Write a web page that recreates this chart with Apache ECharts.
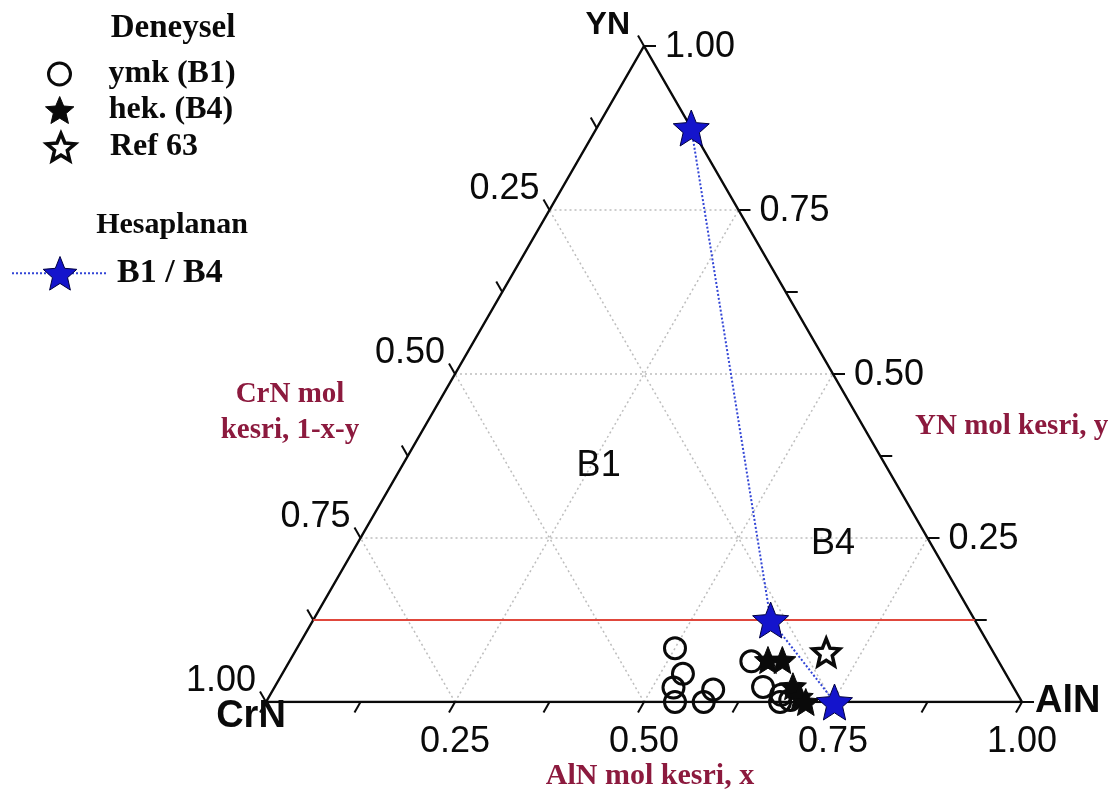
<!DOCTYPE html>
<html>
<head>
<meta charset="utf-8">
<script src="https://cdn.jsdelivr.net/npm/echarts@6/dist/echarts.min.js"></script>
<style>
  html, body { margin: 0; padding: 0; background: #ffffff; }
  #chart { width: 1113px; height: 801px; }
</style>
</head>
<body>
<div id="chart"></div>
<script>
// Compositions as [x, y]: x = AlN mole fraction, y = YN mole fraction, CrN = 1 - x - y
const ymkB1 = [
  [0.500, 0.082], [0.530, 0.043], [0.528, 0.022], [0.541, 0.000],
  [0.582, 0.019], [0.579, 0.000], [0.611, 0.062], [0.646, 0.023],
  [0.676, 0.011], [0.680, 0.000], [0.692, 0.003]
];
const hekB4 = [[0.632, 0.064], [0.651, 0.064], [0.685, 0.024], [0.702, 0.008], [0.714, 0.000]];
const ref63 = [[0.703, 0.076]];
const calcB1B4 = [[0.125, 0.875], [0.605, 0.125], [0.752, 0.000]];

// Phase boundary (constant YN fraction)
const boundaryYN = 0.125;

// Axis ticks (every 0.125) and labelled values
const tickValues = [0, 0.125, 0.25, 0.375, 0.5, 0.625, 0.75, 0.875, 1];
const labelValues = [0.25, 0.5, 0.75, 1.0];
const labelTexts = ['0.25', '0.50', '0.75', '1.00'];
const gridValues = [0.25, 0.5, 0.75];

// Corner components and region names
const cornerNames = ['CrN', 'AlN', 'YN'];
const regionNames = ['B1', 'B4'];
const regionPoints = [[0.26, 0.36], [0.63, 0.24]];

const seriesNames = ['ymk (B1)', 'hek. (B4)', 'Ref 63', 'B1 / B4'];

// ---- ternary -> cartesian ----
const H = Math.sqrt(3) / 2;
function toXY(p) { return [p[0] + p[1] / 2, p[1] * H]; }

function starPath(ratio) {
  let d = '';
  for (let i = 0; i < 10; i++) {
    const r = i % 2 ? 50 * ratio : 50;
    const a = -Math.PI / 2 + i * Math.PI / 5;
    d += (i ? 'L' : 'M') + (50 + r * Math.cos(a)).toFixed(2) + ',' + (50 + r * Math.sin(a)).toFixed(2);
  }
  return 'path://' + d + 'Z';
}
const STAR = starPath(0.45);

// grid segments in three directions
const gridSegs = [];
gridValues.forEach(v => {
  gridSegs.push([...toXY([0, v]), ...toXY([1 - v, v])]);      // constant YN
  gridSegs.push([...toXY([v, 0]), ...toXY([v, 1 - v])]);      // constant AlN
  gridSegs.push([...toXY([1 - v, 0]), ...toXY([0, 1 - v])]);  // constant CrN
});

// tick data: [X, Y, axis, value]; axis 0 = AlN (bottom), 1 = YN (right), 2 = CrN (left)
const tickData = [];
tickValues.forEach(t => {
  tickData.push([...toXY([t, 0]), 0, t]);
  tickData.push([...toXY([1 - t, t]), 1, t]);
  tickData.push([...toXY([0, 1 - t]), 2, t]);
});

const corners = [[0, 0], [1, 0], [0, 1]];
const cornerData = corners.map((c, i) => [...toXY(c), i]);

const frame = [[0, 0], [1, 0], [0, 1], [0, 0]].map(toXY);

const SANS = '"Liberation Sans", Arial, sans-serif';
const SERIF = '"Liberation Serif", "Times New Roman", serif';
const TITLE_COLOR = '#8c1a3e';
const INK = '#0a0a0a';

const legendText = (size) => ({ fontFamily: SERIF, fontWeight: 'bold', fontSize: size, color: INK, padding: [0, 0, 0, 6] });

const chart = echarts.init(document.getElementById('chart'), null, { renderer: 'canvas' });

const option = {
  backgroundColor: '#ffffff',
  animation: false,
  grid: { left: 266, top: 46, width: 756, height: 656, containLabel: false },
  xAxis: { type: 'value', min: 0, max: 1, show: false },
  yAxis: { type: 'value', min: 0, max: H, show: false },
  legend: [
    {
      data: [{ name: seriesNames[0], itemStyle: { color: 'rgba(255,255,255,0)', borderColor: INK, borderWidth: 3 } }],
      left: 42, top: 53, itemWidth: 76, itemHeight: 22,
      textStyle: legendText(32), selectedMode: false
    },
    {
      data: [{ name: seriesNames[1], itemStyle: { color: INK, borderColor: INK, borderWidth: 1 } }],
      left: 40, top: 89, itemWidth: 76, itemHeight: 27,
      textStyle: legendText(32), selectedMode: false
    },
    {
      data: [{ name: seriesNames[2], itemStyle: { color: '#ffffff', borderColor: INK, borderWidth: 3.5 } }],
      left: 40, top: 126, itemWidth: 76, itemHeight: 27,
      textStyle: legendText(32), selectedMode: false
    },
    {
      data: [{ name: seriesNames[3], itemStyle: { color: '#1414cc', borderColor: '#000040', borderWidth: 1 } }],
      left: 6, top: 251, itemWidth: 96, itemHeight: 42,
      textStyle: { fontFamily: SERIF, fontWeight: 'bold', fontSize: 34, color: INK, padding: [0, 0, 0, 4] },
      selectedMode: false
    }
  ],
  graphic: [
    { type: 'text', x: 173, y: 28, style: { text: 'Deneysel', font: 'bold 33px ' + SERIF, fill: INK, align: 'center', verticalAlign: 'middle' } },
    { type: 'text', x: 172, y: 225, style: { text: 'Hesaplanan', font: 'bold 30px ' + SERIF, fill: INK, align: 'center', verticalAlign: 'middle' } },
    { type: 'text', x: 290, y: 377, style: { text: 'CrN mol\nkesri, 1-x-y', font: 'bold 29px ' + SERIF, lineHeight: 36, fill: TITLE_COLOR, align: 'center', verticalAlign: 'top' } },
    { type: 'text', x: 915, y: 427, style: { text: 'YN mol kesri, y', font: 'bold 29px ' + SERIF, fill: TITLE_COLOR, align: 'left', verticalAlign: 'middle' } },
    { type: 'text', x: 650, y: 776, style: { text: 'AlN mol kesri, x', font: 'bold 30px ' + SERIF, fill: TITLE_COLOR, align: 'center', verticalAlign: 'middle' } }
  ],
  series: [
    {
      // dotted composition grid
      type: 'custom', silent: true, z: 1,
      data: gridSegs,
      encode: { x: [0, 2], y: [1, 3] },
      renderItem: (params, api) => {
        const a = api.coord([api.value(0), api.value(1)]);
        const b = api.coord([api.value(2), api.value(3)]);
        return {
          type: 'line',
          shape: { x1: a[0], y1: a[1], x2: b[0], y2: b[1] },
          style: { stroke: '#bdbdbd', lineWidth: 1.5, lineDash: [2, 3] }
        };
      }
    },
    {
      // triangle frame
      type: 'line', silent: true, z: 2,
      data: frame, symbol: 'none',
      lineStyle: { color: INK, width: 2.5 }
    },
    {
      // ticks and tick labels of the three axes
      type: 'custom', silent: true, z: 3,
      data: tickData,
      encode: { x: 0, y: 1 },
      renderItem: (params, api) => {
        const p = api.coord([api.value(0), api.value(1)]);
        const axis = api.value(2), t = api.value(3);
        const L = 12;
        const dirs = [[-0.5, H], [1, 0], [-0.5, -H]];
        const d = dirs[axis];
        const children = [{
          type: 'line',
          shape: { x1: p[0], y1: p[1], x2: p[0] + d[0] * L, y2: p[1] + d[1] * L },
          style: { stroke: INK, lineWidth: 2 }
        }];
        const li = labelValues.findIndex(v => Math.abs(v - t) < 1e-6);
        if (li >= 0) {
          let x, y, align;
          if (axis === 0) { x = p[0]; y = p[1] + 40; align = 'center'; }
          else if (axis === 1) { x = p[0] + 21; y = p[1] + 1; align = 'left'; }
          else { x = p[0] - 10; y = p[1] - 21; align = 'right'; }
          children.push({
            type: 'text', x: x, y: y,
            style: { text: labelTexts[li], font: '36px ' + SANS, fill: INK, align: align, verticalAlign: 'middle' }
          });
        }
        return { type: 'group', children: children };
      }
    },
    {
      // corner component names
      type: 'custom', silent: true, z: 3,
      data: cornerData,
      encode: { x: 0, y: 1 },
      renderItem: (params, api) => {
        const p = api.coord([api.value(0), api.value(1)]);
        const i = api.value(2);
        const place = [
          { dx: -15, dy: 15, align: 'center', size: 38 },
          { dx: 13, dy: 0, align: 'left', size: 38 },
          { dx: -14, dy: -21, align: 'right', size: 32 }
        ][i];
        return {
          type: 'text', x: p[0] + place.dx, y: p[1] + place.dy,
          style: { text: cornerNames[i], font: 'bold ' + place.size + 'px ' + SANS, fill: INK, align: place.align, verticalAlign: 'middle' }
        };
      }
    },
    {
      // phase boundary
      type: 'line', silent: true, z: 4,
      data: [toXY([0, boundaryYN]), toXY([1 - boundaryYN, boundaryYN])],
      symbol: 'none',
      lineStyle: { color: '#e0473c', width: 2 }
    },
    {
      // region names
      type: 'scatter', silent: true, z: 4,
      data: regionPoints.map((p, i) => ({ value: toXY(p), name: regionNames[i] })),
      symbolSize: 0,
      itemStyle: { opacity: 1 },
      label: { show: true, position: 'inside', formatter: '{b}', fontFamily: SANS, fontSize: 36, color: INK, opacity: 1 }
    },
    {
      name: seriesNames[0], type: 'scatter', z: 5,
      data: ymkB1.map(toXY),
      symbol: 'circle', symbolSize: 21,
      itemStyle: { color: 'rgba(255,255,255,0)', borderColor: INK, borderWidth: 3, opacity: 1 }
    },
    {
      name: seriesNames[1], type: 'scatter', z: 6,
      data: hekB4.map(toXY),
      symbol: STAR, symbolSize: 27,
      itemStyle: { color: INK, borderColor: INK, borderWidth: 1, opacity: 1 }
    },
    {
      name: seriesNames[2], type: 'scatter', z: 6,
      data: ref63.map(toXY),
      symbol: STAR, symbolSize: 27,
      itemStyle: { color: '#ffffff', borderColor: INK, borderWidth: 3.5, opacity: 1 }
    },
    {
      name: seriesNames[3], type: 'line', z: 7,
      data: calcB1B4.map(toXY),
      symbol: STAR, symbolSize: 36,
      itemStyle: { color: '#1414cc', borderColor: '#000040', borderWidth: 1, opacity: 1 },
      lineStyle: { color: '#3346d6', width: 2, type: 'dotted' }
    }
  ]
};

chart.setOption(option);
</script>
</body>
</html>
